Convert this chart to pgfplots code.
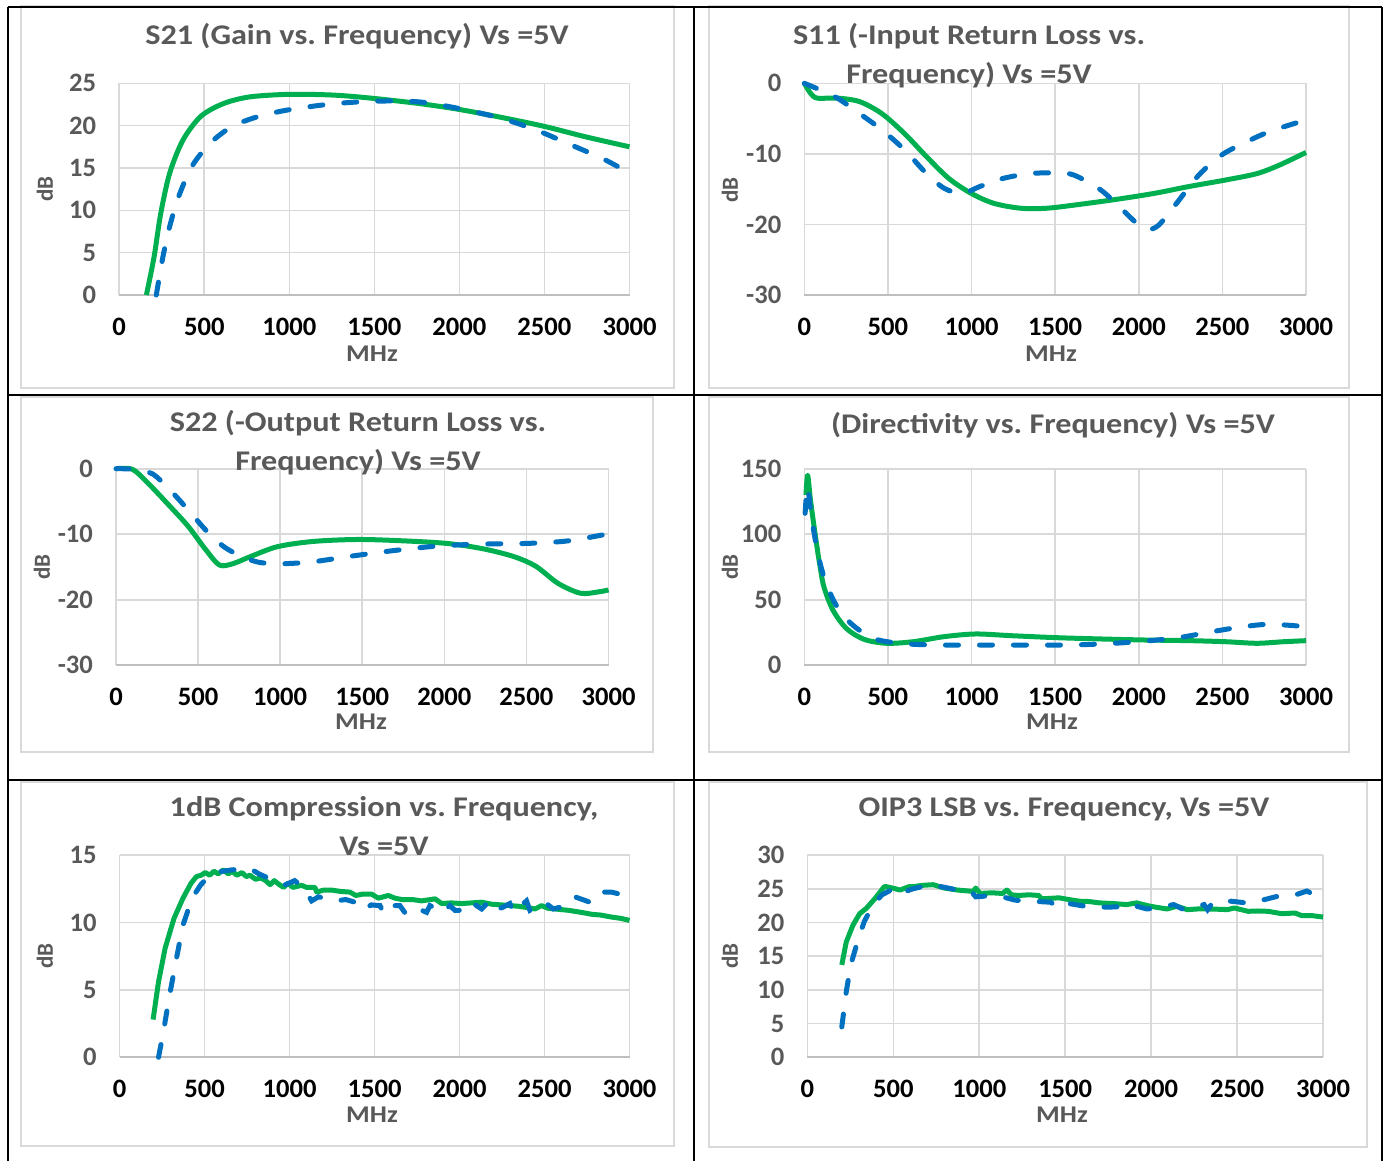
\documentclass[border=0pt]{standalone}
\usepackage{fontspec}
\setmainfont{Carlito}
\newfontfamily\widefont{Carlito}[FakeStretch=1.13]
\usepackage{pgfplots}
\pgfplotsset{compat=1.18}
\definecolor{xlgreen}{HTML}{00B050}
\definecolor{xlblue}{HTML}{0070C0}
\definecolor{txtgray}{HTML}{595959}
\definecolor{gridgray}{HTML}{D9D9D9}
\definecolor{axgray}{HTML}{BFBFBF}
\newcommand{\tickfont}{\fontsize{13.3}{15}\selectfont\bfseries}
\newcommand{\titlefont}{\widefont\fontsize{14.25}{17}\selectfont\bfseries\frenchspacing}
\newcommand{\labfont}{\widefont\fontsize{12}{14}\selectfont\bfseries}
\newcommand{\dbfont}{\fontsize{11.5}{14}\selectfont\bfseries}
\pgfplotsset{
  xlchart/.style={
    scale only axis, anchor=south west,
    xmin=0, xmax=3000, xtick={0,500,...,3000},
    grid=major, major grid style={draw=gridgray, line width=0.8pt},
    major tick length=0pt,
    axis x line*=bottom, axis y line*=left,
    x axis line style={draw=axgray, line width=1pt, -},
    y axis line style={draw=none},
    /pgf/number format/assume math mode=true,
    /pgf/number format/1000 sep={},
    xticklabel style={font=\tickfont, text=black, yshift=-8pt},
    yticklabel style={font=\tickfont, text=txtgray, xshift=-8pt},
    clip=false,
  },
  gr/.style={draw=xlgreen, line width=2.5pt, no marks, line join=round},
  bl/.style={draw=xlblue, line width=2.5pt, no marks, line cap=round, dash pattern=on 6.5pt off 10.5pt},
}
\begin{document}
\begin{tikzpicture}
\useasboundingbox (0,0) rectangle (692.5pt,-580.5pt);
\begin{scope}[x=0.5pt,y=-0.5pt]
  \draw[gridgray, line width=0.8pt] (21,6) rectangle (674,388);
  \draw[gridgray, line width=0.8pt] (709,6) rectangle (1349,388);
  \draw[gridgray, line width=0.8pt] (21,397) rectangle (653,752);
  \draw[gridgray, line width=0.8pt] (709,397) rectangle (1349,752);
  \draw[gridgray, line width=0.8pt] (21,782) rectangle (674,1146);
  \draw[gridgray, line width=0.8pt] (709,782) rectangle (1367,1147);
\end{scope}

% Chart 1: S21
\begin{axis}[xlchart, at={(59.6pt,-147.5pt)}, width=255.15pt, height=105.85pt,
  ymin=0, ymax=25, ytick={0,5,...,25}]
\addplot[gr, smooth] coordinates {(160,0)(205,4.5)(244,9.6)(297,14.4)(375,18.3)(480,21.1)(612,22.6)(769,23.4)(1005,23.7)(1268,23.6)(1504,23.2)(1767,22.6)(2003,21.9)(2265,20.9)(2502,19.9)(2738,18.7)(3000,17.5)};
\addplot[bl, smooth] coordinates {(218,0)(257,4.5)(297,8.1)(349,11.6)(428,15.2)(533,17.9)(664,19.9)(822,21.1)(1005,21.9)(1268,22.6)(1530,22.9)(1767,22.8)(2003,22.0)(2239,20.9)(2449,19.5)(2659,17.7)(2843,16.1)(3000,14.4)};
\end{axis}

% Chart 2: S11
\begin{axis}[xlchart, at={(402.15pt,-147.5pt)}, width=250.85pt, height=105.85pt,
  ymin=-30, ymax=0, ytick={-30,-20,-10,0}]
\addplot[gr, smooth] coordinates {(0,0)(37,-1.4)(77,-2.1)(198,-2.1)(331,-2.6)(464,-4.3)(598,-7.1)(731,-10.4)(865,-13.5)(998,-15.6)(1132,-17.0)(1292,-17.7)(1452,-17.7)(1665,-17.1)(1879,-16.4)(2092,-15.6)(2306,-14.6)(2520,-13.7)(2706,-12.8)(2840,-11.6)(3000,-9.8)};
\addplot[bl, smooth] coordinates {(0,0)(91,-0.9)(198,-2.1)(331,-4.3)(464,-6.6)(598,-9.4)(731,-12.8)(838,-14.9)(945,-15.6)(1052,-14.6)(1185,-13.5)(1345,-12.8)(1505,-12.7)(1612,-13.0)(1772,-15.1)(1906,-18.0)(1986,-19.8)(2052,-20.7)(2119,-20.1)(2226,-17.0)(2359,-13.0)(2493,-10.2)(2626,-8.5)(2786,-6.8)(3000,-5.2)};
\end{axis}

% Chart 3: S22
\begin{axis}[xlchart, at={(58pt,-332.65pt)}, width=246.25pt, height=98.3pt,
  ymin=-30, ymax=0, ytick={-30,-20,-10,0}]
\addplot[gr, smooth] coordinates {(0,0)(100,-0.1)(195,-2.2)(331,-5.8)(440,-8.8)(548,-12.4)(630,-14.7)(711,-14.5)(820,-13.4)(983,-11.9)(1200,-11.1)(1471,-10.8)(1743,-11.0)(2015,-11.4)(2232,-12.2)(2422,-13.4)(2558,-14.9)(2693,-17.5)(2829,-19.0)(2938,-18.8)(3000,-18.5)};
\addplot[bl, smooth] coordinates {(0,0)(114,-0.1)(223,-0.8)(331,-3.3)(440,-6.3)(548,-9.4)(657,-11.9)(766,-13.4)(874,-14.3)(1010,-14.5)(1200,-14.2)(1417,-13.4)(1689,-12.5)(1960,-11.8)(2232,-11.5)(2503,-11.4)(2720,-11.1)(2856,-10.6)(2965,-10.1)};
\end{axis}

% Chart 4: Directivity
\begin{axis}[xlchart, at={(402.15pt,-332.65pt)}, width=250.85pt, height=98.3pt,
  ymin=0, ymax=150, ytick={0,50,100,150}]
\addplot[gr, smooth] coordinates {(10,130)(20,145)(37,126)(64,100.7)(91,77.8)(117,60)(171,42.2)(251,28.2)(358,19.8)(491,16.8)(651,18.0)(838,21.9)(1025,23.9)(1238,22.6)(1505,21.1)(1772,20.1)(2039,19.3)(2306,18.8)(2520,18.0)(2706,16.8)(2866,18.0)(3000,18.8)};
\addplot[bl, smooth] coordinates {(5,116)(19,136)(43,113)(77,88)(117,67.6)(184,47.3)(278,32)(411,20.6)(571,16.8)(785,15.5)(1185,15.5)(1585,15.5)(1852,16.8)(2066,18.8)(2253,21.4)(2439,25.7)(2626,29.5)(2786,31.3)(3000,29.5)};
\end{axis}

% Chart 5: 1dB compression
\begin{axis}[xlchart, at={(59.8pt,-528.65pt)}, width=254.95pt, height=101.15pt,
  ymin=0, ymax=15, ytick={0,5,10,15}]
\addplot[gr] coordinates {(197,2.8)(229,5.6)(268,8.1)(320,10.3)(373,11.8)(420,12.9)(452,13.4)(480,13.5)(504,13.7)(530,13.5)(555,13.8)(580,13.6)(610,13.9)(640,13.6)(662,13.8)(690,13.5)(720,13.7)(745,13.4)(767,13.5)(800,13.2)(830,13.3)(860,13.1)(885,12.8)(910,13.1)(940,12.8)(965,12.6)(990,12.9)(1020,12.6)(1071,12.75)(1100,12.6)(1149,12.6)(1160,12.25)(1200,12.4)(1247,12.4)(1300,12.3)(1355,12.25)(1390,12.0)(1430,12.1)(1483,12.1)(1522,11.8)(1581,12.0)(1620,11.8)(1660,11.7)(1720,11.7)(1777,11.6)(1856,11.75)(1895,11.4)(1950,11.45)(2013,11.4)(2070,11.45)(2131,11.5)(2190,11.35)(2248,11.3)(2300,11.25)(2346,11.2)(2400,11.1)(2444,11.0)(2483,11.25)(2520,11.05)(2561,11.0)(2600,10.95)(2640,10.9)(2690,10.8)(2738,10.7)(2780,10.6)(2830,10.55)(2894,10.4)(2950,10.3)(3000,10.15)};
\addplot[bl] coordinates {(229,0)(255,1.7)(294,4.6)(334,7.3)(373,9.8)(426,11.8)(478,12.8)(531,13.5)(583,13.75)(662,13.9)(767,14.0)(820,13.6)(872,13.3)(925,13.0)(977,12.8)(1030,13.1)(1081,12.6)(1130,11.6)(1170,11.9)(1218,11.75)(1277,11.6)(1330,11.7)(1385,11.5)(1434,10.9)(1480,11.3)(1532,11.25)(1550,10.75)(1570,11.25)(1649,11.25)(1680,10.7)(1700,11.0)(1760,11.0)(1806,10.75)(1826,11.25)(1904,10.75)(1943,11.25)(1973,10.9)(2061,10.9)(2081,11.4)(2130,11.0)(2169,11.5)(2199,10.9)(2250,11.1)(2296,11.4)(2316,10.75)(2394,11.6)(2414,10.9)(2460,11.2)(2502,11.5)(2551,11.0)(2630,11.25)(2679,11.9)(2767,11.5)(2816,12.25)(2894,12.25)(2943,12.1)(2972,11.9)};
\end{axis}

% Chart 6: OIP3
\begin{axis}[xlchart, at={(403.7pt,-528.65pt)}, width=257.8pt, height=101.15pt,
  ymin=0, ymax=30, ytick={0,5,...,30}]
\addplot[gr] coordinates {(200,13.7)(226,17.1)(265,19.6)(304,21.3)(343,22.1)(395,23.6)(447,25.3)(460,25.3)(512,25.0)(538,24.8)(590,25.3)(615,25.3)(667,25.5)(732,25.6)(797,25.1)(875,24.8)(966,24.6)(979,25.1)(1005,24.3)(1072,24.4)(1135,24.3)(1161,24.8)(1187,24.1)(1229,24.0)(1290,24.1)(1347,24.0)(1360,23.5)(1465,23.65)(1520,23.4)(1582,23.15)(1640,23.1)(1700,22.9)(1780,22.8)(1857,22.65)(1916,22.9)(1994,22.4)(2092,22.0)(2151,22.4)(2210,21.9)(2270,22.0)(2328,22.0)(2400,21.95)(2445,21.9)(2484,22.15)(2563,21.65)(2620,21.7)(2681,21.65)(2759,21.3)(2837,21.4)(2877,21.0)(2940,21.0)(3000,20.8)};
\addplot[bl] coordinates {(200,4.5)(226,9.7)(252,13.7)(291,17.1)(330,20.1)(382,22.6)(434,24.1)(486,24.8)(512,25.0)(538,24.3)(615,25.0)(719,25.6)(800,25.2)(875,24.8)(953,24.6)(979,23.8)(1031,23.9)(1092,23.8)(1150,23.7)(1210,23.3)(1308,23.15)(1416,23.0)(1445,22.4)(1475,23.0)(1592,22.5)(1661,22.25)(1798,22.3)(1857,22.8)(1975,22.0)(2033,22.15)(2131,22.65)(2190,21.9)(2308,22.65)(2328,21.9)(2357,22.9)(2465,23.15)(2553,22.9)(2661,23.4)(2739,23.9)(2847,24.15)(2906,24.65)(2926,24.4)(2960,24.6)};
\end{axis}

\begin{scope}[x=0.5pt,y=-0.5pt]
  % titles
  \node[anchor=base, font=\titlefont, text=txtgray, inner sep=0pt] at (357,45) {S21 (Gain vs. Frequency) Vs =5V};
  \node[anchor=base, font=\titlefont, text=txtgray, inner sep=0pt] at (969,45) {S11 (-Input Return Loss vs.};
  \node[anchor=base, font=\titlefont, text=txtgray, inner sep=0pt] at (969,83.5) {Frequency) Vs =5V};
  \node[anchor=base, font=\titlefont, text=txtgray, inner sep=0pt] at (358,431.5) {S22 (-Output Return Loss vs.};
  \node[anchor=base, font=\titlefont, text=txtgray, inner sep=0pt] at (358,470.5) {Frequency) Vs =5V};
  \node[anchor=base, font=\titlefont, text=txtgray, inner sep=0pt] at (1053,433.5) {(Directivity vs. Frequency) Vs =5V};
  \node[anchor=base, font=\titlefont, text=txtgray, inner sep=0pt] at (384,816.5) {1dB Compression vs. Frequency,};
  \node[anchor=base, font=\titlefont, text=txtgray, inner sep=0pt] at (384,855.5) {Vs =5V};
  \node[anchor=base, font=\titlefont, text=txtgray, inner sep=0pt] at (1064,816.5) {OIP3 LSB vs. Frequency, Vs =5V};
  % axis labels
  \foreach \px/\py in {45/189, 730/190, 42/567, 730/567, 45/956, 730/956}
    \node[rotate=90, font=\dbfont, text=txtgray, inner sep=0pt] at (\px,\py) {dB};
  \foreach \px/\py in {372/354, 1051/354, 361/722, 1052/722, 372/1115, 1062/1115}
    \node[font=\labfont, text=txtgray, inner sep=0pt] at (\px,\py) {MHz};
  % table lines
  \draw[black, line width=1pt] (8,7) -- (1382,7);
  \draw[black, line width=1pt] (8,395) -- (1382,395);
  \draw[black, line width=1pt] (8,780) -- (1382,780);
  \draw[black, line width=1pt] (8,7) -- (8,1161);
  \draw[black, line width=1pt] (694,7) -- (694,1161);
  \draw[black, line width=1pt] (1382,7) -- (1382,1161);
\end{scope}
\end{tikzpicture}
\end{document}
